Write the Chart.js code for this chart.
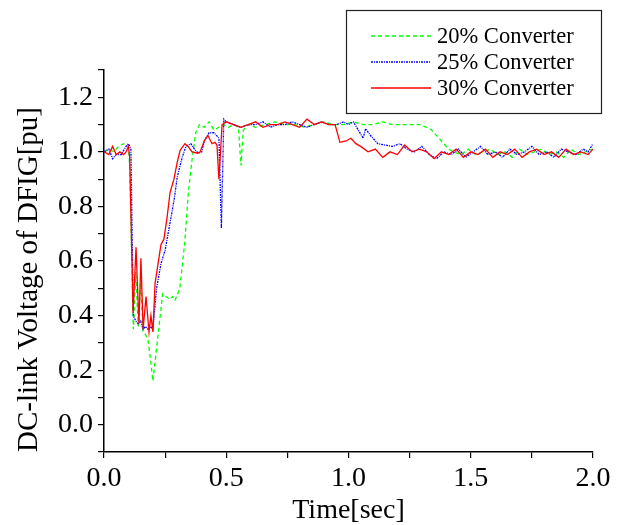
<!DOCTYPE html>
<html>
<head>
<meta charset="utf-8">
<script src="https://cdn.jsdelivr.net/npm/chart.js@4.4.0/dist/chart.umd.min.js"></script>
<style>
  html, body { margin: 0; padding: 0; background: #fff; }
  #wrap { width: 621px; height: 525px; }
</style>
</head>
<body>
<div id="wrap"><canvas id="myChart" width="621" height="525"></canvas></div>
<script>
// series labels
const seriesNames = ["20% Converter", "25% Converter", "30% Converter"];

// 20% converter (green, dashed)
const t20 = [0.00, 0.02, 0.04, 0.06, 0.08, 0.10, 0.105, 0.12, 0.13, 0.14, 0.15, 0.16, 0.17, 0.18, 0.19, 0.20,
  0.22, 0.24, 0.26, 0.27, 0.28, 0.29, 0.31, 0.33, 0.345, 0.36, 0.375, 0.39, 0.41, 0.43, 0.45, 0.47, 0.49,
  0.51, 0.53, 0.55, 0.56, 0.57, 0.59, 0.62, 0.66, 0.70, 0.74, 0.78, 0.82, 0.86, 0.90, 0.94, 0.98, 1.02,
  1.06, 1.10, 1.14, 1.18, 1.22, 1.26, 1.29, 1.32, 1.34, 1.37, 1.39, 1.41, 1.43, 1.46, 1.49, 1.52, 1.55,
  1.58, 1.61, 1.64, 1.67, 1.70, 1.73, 1.76, 1.79, 1.82, 1.85, 1.88, 1.91, 1.94, 1.97, 2.00];
const v20 = [1.00, 1.01, 1.00, 1.02, 1.03, 1.02, 0.95, 0.35, 0.56, 0.36, 0.52, 0.34, 0.33, 0.31, 0.24, 0.16,
  0.32, 0.48, 0.465, 0.46, 0.47, 0.455, 0.50, 0.665, 0.85, 0.97, 1.07, 1.10, 1.09, 1.11, 1.08, 1.09, 1.10,
  1.09, 1.10, 1.09, 0.95, 1.08, 1.10, 1.09, 1.10, 1.11, 1.10, 1.10, 1.09, 1.10, 1.11, 1.10, 1.10, 1.11,
  1.10, 1.10, 1.11, 1.10, 1.10, 1.10, 1.10, 1.09, 1.08, 1.05, 1.03, 1.01, 1.00, 0.99, 1.01, 0.99, 1.00,
  1.01, 0.99, 1.00, 0.98, 1.01, 0.99, 1.00, 1.01, 0.99, 1.00, 0.98, 1.01, 0.99, 1.00, 1.01];

// 25% converter (blue, dotted)
const t25 = [0.00, 0.02, 0.035, 0.05, 0.07, 0.09, 0.10, 0.11, 0.12, 0.13, 0.14, 0.15, 0.16, 0.17, 0.18, 0.19,
  0.20, 0.215, 0.233, 0.25, 0.27, 0.286, 0.30, 0.32, 0.335, 0.355, 0.37, 0.385, 0.40, 0.41, 0.43, 0.45,
  0.47, 0.48, 0.49, 0.50, 0.53, 0.56, 0.59, 0.62, 0.65, 0.68, 0.71, 0.74, 0.77, 0.80, 0.83, 0.86, 0.89,
  0.92, 0.95, 0.98, 1.00, 1.02, 1.04, 1.06, 1.07, 1.09, 1.12, 1.15, 1.18, 1.21, 1.24, 1.27, 1.30, 1.33,
  1.36, 1.39, 1.42, 1.45, 1.48, 1.51, 1.54, 1.57, 1.60, 1.63, 1.66, 1.69, 1.72, 1.75, 1.78, 1.81, 1.84,
  1.87, 1.90, 1.93, 1.96, 1.98, 2.00];
const v25 = [1.00, 1.01, 0.975, 0.99, 0.99, 1.02, 1.03, 1.01, 0.40, 0.38, 0.37, 0.38, 0.35, 0.36, 0.35, 0.36,
  0.35, 0.50, 0.59, 0.64, 0.74, 0.82, 0.91, 0.98, 1.02, 1.03, 1.01, 0.995, 1.00, 1.04, 1.07, 1.07,
  1.05, 0.72, 1.12, 1.11, 1.10, 1.09, 1.10, 1.10, 1.11, 1.09, 1.10, 1.10, 1.11, 1.10, 1.09, 1.10, 1.11,
  1.10, 1.10, 1.11, 1.10, 1.11, 1.08, 1.05, 1.085, 1.06, 1.03, 1.025, 1.02, 1.03, 1.01, 1.00, 1.02, 0.99,
  0.975, 1.00, 0.99, 1.01, 0.98, 1.00, 1.02, 0.99, 1.00, 0.98, 1.01, 0.99, 1.00, 1.02, 0.99, 1.00, 0.98,
  1.01, 1.00, 0.99, 1.01, 1.00, 1.03];

// 30% converter (red, solid)
const t30 = [0.00, 0.02, 0.035, 0.05, 0.065, 0.08, 0.09, 0.10, 0.105, 0.119, 0.131, 0.143, 0.151, 0.160,
  0.172, 0.184, 0.192, 0.200, 0.209, 0.233, 0.245, 0.258, 0.270, 0.286, 0.299, 0.311, 0.331, 0.344, 0.360,
  0.384, 0.393, 0.41, 0.425, 0.442, 0.454, 0.462, 0.470, 0.483, 0.50, 0.53, 0.56, 0.59, 0.62, 0.65, 0.68,
  0.71, 0.74, 0.77, 0.80, 0.83, 0.86, 0.89, 0.92, 0.945, 0.965, 0.99, 1.01, 1.03, 1.05, 1.08, 1.11, 1.14,
  1.17, 1.20, 1.23, 1.26, 1.29, 1.32, 1.35, 1.38, 1.41, 1.44, 1.47, 1.50, 1.53, 1.56, 1.59, 1.62, 1.65,
  1.68, 1.71, 1.74, 1.77, 1.80, 1.83, 1.86, 1.89, 1.92, 1.95, 1.98, 2.00];
const v30 = [1.00, 0.99, 1.02, 0.99, 1.00, 0.99, 1.00, 1.02, 0.98, 0.41, 0.65, 0.37, 0.61, 0.35,
  0.47, 0.34, 0.40, 0.34, 0.52, 0.66, 0.68, 0.76, 0.85, 0.90, 0.96, 1.005, 1.03, 1.02, 1.00,
  0.995, 1.00, 1.04, 1.06, 1.03, 1.035, 1.025, 0.90, 1.10, 1.11, 1.10, 1.09, 1.10, 1.11, 1.09, 1.10,
  1.10, 1.11, 1.10, 1.09, 1.12, 1.10, 1.11, 1.10, 1.10, 1.035, 1.04, 1.05, 1.03, 1.02, 1.00, 1.01, 0.98,
  1.00, 0.99, 1.025, 1.00, 1.01, 1.00, 0.975, 1.00, 0.99, 1.01, 0.98, 1.00, 0.99, 1.01, 0.98, 1.00, 0.99,
  1.01, 0.98, 1.00, 1.01, 0.99, 1.00, 0.98, 1.01, 0.99, 1.00, 0.99, 1.01];

const xTicks = [0.0, 0.5, 1.0, 1.5, 2.0];
const yTicks = [0.0, 0.2, 0.4, 0.6, 0.8, 1.0, 1.2];

function toPoints(ts, vs) {
  return ts.map((t, i) => ({ x: t, y: vs[i] }));
}

const serif = "'Liberation Serif', 'Times New Roman', serif";

// draws the boxed legend in the top right corner
const boxLegend = {
  id: 'boxLegend',
  afterDraw(chart) {
    const ctx = chart.ctx;
    ctx.save();
    ctx.fillStyle = '#fff';
    ctx.fillRect(346, 10, 256, 104);
    ctx.strokeStyle = '#222';
    ctx.lineWidth = 1.2;
    ctx.strokeRect(346.5, 10.5, 255, 103);
    const rows = [36, 62, 88];
    chart.data.datasets.forEach((ds, r) => {
      ctx.strokeStyle = ds.borderColor;
      ctx.lineWidth = ds.borderWidth;
      ctx.setLineDash(ds.borderDash || []);
      ctx.beginPath();
      ctx.moveTo(371, rows[r]);
      ctx.lineTo(431, rows[r]);
      ctx.stroke();
      ctx.setLineDash([]);
      ctx.fillStyle = '#000';
      ctx.font = '22.5px ' + serif;
      ctx.textBaseline = 'middle';
      ctx.fillText(ds.label, 437, rows[r] + 1);
    });
    ctx.restore();
  }
};

const ctx = document.getElementById('myChart').getContext('2d');
const myChart = new Chart(ctx, {
  type: 'line',
  data: {
    datasets: [
      {
        label: seriesNames[0],
        data: toPoints(t20, v20),
        borderColor: '#00ff00',
        borderWidth: 1.3,
        borderDash: [4, 3],
        pointRadius: 0,
        tension: 0,
        order: 3
      },
      {
        label: seriesNames[1],
        data: toPoints(t25, v25),
        borderColor: '#0000ff',
        borderWidth: 1.3,
        borderDash: [2, 1, 1, 1],
        pointRadius: 0,
        tension: 0,
        order: 2
      },
      {
        label: seriesNames[2],
        data: toPoints(t30, v30),
        borderColor: '#ff0000',
        borderWidth: 1.3,
        pointRadius: 0,
        tension: 0,
        order: 1
      }
    ]
  },
  options: {
    responsive: false,
    animation: false,
    layout: { padding: { top: 70, right: 28, left: 0, bottom: 0 } },
    plugins: {
      legend: { display: false },
      tooltip: { enabled: false }
    },
    scales: {
      x: {
        type: 'linear',
        min: 0,
        max: 2,
        afterFit(scale) { scale.height = 73; },
        border: { display: true, color: '#000', width: 1.5 },
        grid: { drawOnChartArea: false, drawTicks: true, tickLength: 6, color: '#000', lineWidth: 1.2 },
        ticks: {
          stepSize: 0.25,
          autoSkip: false,
          maxRotation: 0,
          color: '#000',
          padding: 4,
          font: { family: serif, size: 28 },
          callback: (v) => xTicks.some(t => Math.abs(t - v) < 1e-6) ? v.toFixed(1) : ''
        },
        title: {
          display: true,
          text: 'Time[sec]',
          color: '#000',
          font: { family: serif, size: 28, lineHeight: 1 },
          padding: { top: 0, bottom: 0 }
        }
      },
      y: {
        type: 'linear',
        min: -0.1,
        max: 1.3,
        afterFit(scale) { scale.width = 104; },
        border: { display: true, color: '#000', width: 1.5 },
        grid: { drawOnChartArea: false, drawTicks: true, tickLength: 6, color: '#000', lineWidth: 1.2 },
        ticks: {
          stepSize: 0.1,
          autoSkip: false,
          color: '#000',
          padding: 5,
          font: { family: serif, size: 28 },
          callback: (v) => yTicks.some(t => Math.abs(t - v) < 1e-6) ? v.toFixed(1) : ''
        },
        title: {
          display: true,
          align: 'start',
          text: 'DC-link Voltage of DFIG[pu]',
          color: '#000',
          font: { family: serif, size: 29 },
          padding: { top: 12, bottom: 0 }
        }
      }
    }
  },
  plugins: [boxLegend]
});
</script>
</body>
</html>
